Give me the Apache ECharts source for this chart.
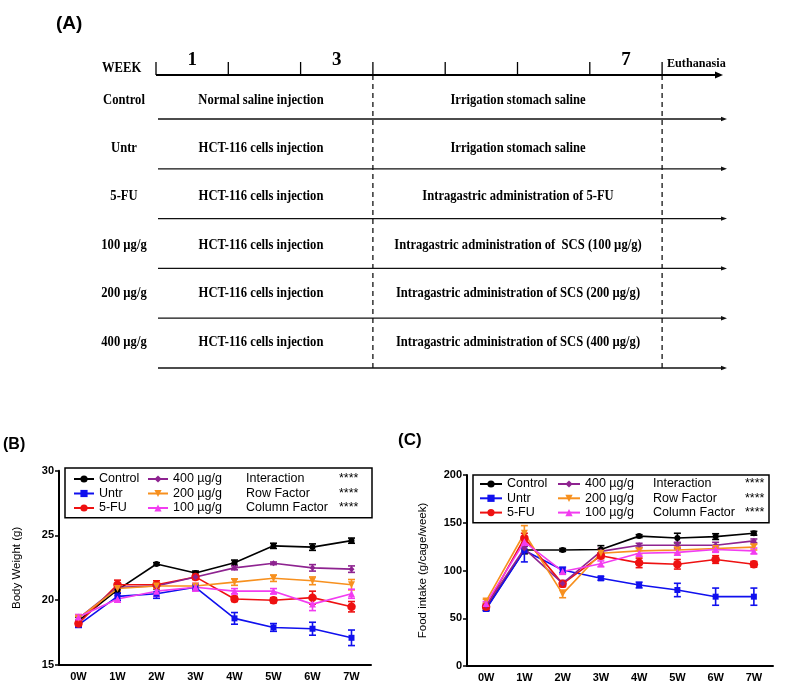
<!DOCTYPE html>
<html><head><meta charset="utf-8">
<script src="https://cdn.jsdelivr.net/npm/echarts@6/dist/echarts.min.js"></script>
<style>html,body{margin:0;padding:0;background:#fff}#c{width:787px;height:693px}</style>
</head><body><div id="c"></div>
<script>
// ---------- data ----------
const weeks = ['0W','1W','2W','3W','4W','5W','6W','7W'];
const groupNames = ['Control','Untr','5-FU','400 µg/g','200 µg/g','100 µg/g'];

// Panel B: body weight (g), mean and SEM
const bwControl = [18.4, 20.8, 22.8, 22.1, 22.9, 24.2, 24.1, 24.6];
const bwUntr    = [18.1, 20.3, 20.5, 21.0, 18.6, 17.9, 17.8, 17.1];
const bw5FU     = [18.2, 21.2, 21.2, 21.8, 20.1, 20.0, 20.2, 19.5];
const bw400     = [18.6, 21.0, 21.1, 21.8, 22.5, 22.85, 22.5, 22.4];
const bw200     = [18.6, 20.9, 21.1, 21.1, 21.4, 21.7, 21.5, 21.2];
const bw100     = [18.7, 20.1, 20.7, 21.0, 20.7, 20.7, 19.7, 20.5];
const bwErrControl = [0.3, 0.25, 0.1, 0.15, 0.2, 0.2, 0.25, 0.2];
const bwErrUntr    = [0.2, 0.3, 0.35, 0.2, 0.45, 0.3, 0.5, 0.6];
const bwErr5FU     = [0.2, 0.35, 0.3, 0.2, 0.2, 0.2, 0.5, 0.4];
const bwErr400     = [0.15, 0.2, 0.2, 0.15, 0.15, 0.1, 0.25, 0.25];
const bwErr200     = [0.15, 0.2, 0.2, 0.15, 0.25, 0.25, 0.3, 0.4];
const bwErr100     = [0.2, 0.25, 0.4, 0.3, 0.2, 0.2, 0.5, 0.35];

// Panel C: food intake (g/cage/week), mean and SEM
const fiControl = [60.5, 121.5, 121.5, 122, 136, 134, 135.5, 139];
const fiUntr    = [59.7, 121, 100.5, 91.8, 84.8, 79.6, 72.6, 72.6];
const fi5FU     = [62, 134, 86, 115.5, 108, 106.5, 111.5, 106.5];
const fi400     = [63, 123, 86.5, 120, 126.5, 126.5, 126.5, 131];
const fi200     = [68, 139, 75.5, 118, 120.5, 121.5, 123, 124.5];
const fi100     = [65.5, 130, 99, 107, 118, 119, 122, 120.5];
const fiErrControl = [2, 4, 1.5, 4, 1.5, 5, 3, 2];
const fiErrUntr    = [2, 12, 3, 2, 3, 7, 9, 9];
const fiErr5FU     = [2, 5, 3, 3, 5, 5, 4, 3];
const fiErr400     = [2, 4, 3, 3, 2, 3, 3, 2];
const fiErr200     = [2, 8, 4, 4, 3, 3, 3, 3];
const fiErr100     = [2, 4, 3, 3, 3, 3, 3, 3];

const statLabels = ['Interaction', 'Row Factor', 'Column Factor'];
const statSig = ['****', '****', '****'];

// Panel A: schedule
const weekNumbers = ['1','2','3','4','5','6','7'];
const shownWeeks = ['1','3','7'];
const rowLabels = ['Control','Untr','5-FU','100 µg/g','200 µg/g','400 µg/g'];
const phase1Texts = ['Normal saline injection','HCT-116 cells injection','HCT-116 cells injection',
  'HCT-116 cells injection','HCT-116 cells injection','HCT-116 cells injection'];
const phase2Texts = ['Irrigation stomach saline','Irrigation stomach saline','Intragastric administration of 5-FU',
  'Intragastric administration of  SCS (100 µg/g)','Intragastric administration of SCS (200 µg/g)',
  'Intragastric administration of SCS (400 µg/g)'];

// ---------- styles ----------
const SANS = 'Liberation Sans, Arial, sans-serif';
const SERIF = 'Liberation Serif, Times New Roman, serif';
const colors = ['#000000', '#1010ee', '#ee1111', '#8e2390', '#f7901e', '#f23cf0'];
const symbols = ['circle', 'rect', 'circle', 'diamond', 'path://M0,0 L10,0 L5,9 Z', 'triangle'];
const symbolSizes = [6, 6, 8.5, 6, 7, 7];

const bwMeans = [bwControl, bwUntr, bw5FU, bw400, bw200, bw100];
const bwErrs = [bwErrControl, bwErrUntr, bwErr5FU, bwErr400, bwErr200, bwErr100];
const fiMeans = [fiControl, fiUntr, fi5FU, fi400, fi200, fi100];
const fiErrs = [fiErrControl, fiErrUntr, fiErr5FU, fiErr400, fiErr200, fiErr100];

function errSeries(name, mean, err, gi, color) {
  return {
    type: 'custom', name: name + ' SEM ' + gi, xAxisIndex: gi, yAxisIndex: gi, z: 3,
    encode: { x: 0, y: [1, 2] },
    data: mean.map((m, i) => [i, m - err[i], m + err[i]]),
    renderItem: (params, api) => {
      const x = api.value(0);
      const p1 = api.coord([x, api.value(1)]);
      const p2 = api.coord([x, api.value(2)]);
      const w = 3.5, st = { stroke: color, lineWidth: 1.6 };
      return { type: 'group', children: [
        { type: 'line', shape: { x1: p1[0], y1: p1[1], x2: p2[0], y2: p2[1] }, style: st },
        { type: 'line', shape: { x1: p1[0] - w, y1: p1[1], x2: p1[0] + w, y2: p1[1] }, style: st },
        { type: 'line', shape: { x1: p2[0] - w, y1: p2[1], x2: p2[0] + w, y2: p2[1] }, style: st }
      ]};
    }
  };
}
function lineSeries(idx, mean, gi) {
  return {
    type: 'line', name: groupNames[idx], xAxisIndex: gi, yAxisIndex: gi, z: 4,
    data: mean, symbol: symbols[idx], symbolSize: symbolSizes[idx],
    itemStyle: { color: colors[idx] }, lineStyle: { color: colors[idx], width: 1.6 },
    emphasis: { disabled: true }, animation: false
  };
}

const series = [];
[bwMeans, fiMeans].forEach((means, gi) => {
  const errs = gi === 0 ? bwErrs : fiErrs;
  means.forEach((m, idx) => {
    series.push(errSeries(groupNames[idx], m, errs[idx], gi, colors[idx]));
    series.push(lineSeries(idx, m, gi));
  });
});

function xAx(gi) {
  return {
    type: 'category', gridIndex: gi, data: weeks, boundaryGap: true,
    axisLine: { lineStyle: { color: '#000', width: 2 } },
    axisTick: { alignWithLabel: true, length: 4, lineStyle: { color: '#000', width: 1.5 } },
    axisLabel: { color: '#000', fontFamily: SANS, fontWeight: 'bold', fontSize: 11, margin: 6 },
    splitLine: { show: false }
  };
}
function yAx(gi, min, max, interval, name, gap) {
  return {
    type: 'value', gridIndex: gi, min, max, interval,
    name, nameLocation: 'middle', nameGap: gap, nameRotate: 90,
    nameTextStyle: { color: '#000', fontFamily: SANS, fontSize: 11.5 },
    axisLine: { show: true, lineStyle: { color: '#000', width: 2 } },
    axisTick: { show: true, length: 4, lineStyle: { color: '#000', width: 1.5 } },
    axisLabel: { color: '#000', fontFamily: SANS, fontWeight: 'bold', fontSize: 11, margin: 5 },
    splitLine: { show: false }
  };
}

function legendCol(names, left, top, itemW, lh) {
  return {
    data: names, orient: 'vertical', left, top, padding: 0, itemGap: 0,
    itemWidth: itemW, itemHeight: 9, selectedMode: false,
    textStyle: { color: '#000', fontFamily: SANS, fontSize: 12.5, lineHeight: lh }
  };
}

// ---------- panel A graphics ----------
const g = [];
const tl = { x0: 156, step: 72.3, y: 75, end: 723 };
const txt = (text, x, y, size, opts, sx) => ({
  type: 'text', x, y, scaleX: sx || 0.9,
  style: Object.assign({ text, fill: '#000', font: 'bold ' + size + 'px ' + SERIF, textVerticalAlign: 'middle', textAlign: 'left' }, opts || {})
});
g.push({ type: 'text', left: 56, top: 14, style: { text: '(A)', fill: '#000', font: 'bold 19px ' + SANS } });
g.push(txt('WEEK', 102, 68, 14));
g.push({ type: 'line', shape: { x1: tl.x0, y1: tl.y, x2: tl.end - 6, y2: tl.y }, style: { stroke: '#000', lineWidth: 2 } });
g.push({ type: 'polygon', shape: { points: [[tl.end, tl.y], [tl.end - 8, tl.y - 3.5], [tl.end - 8, tl.y + 3.5]] }, style: { fill: '#000' } });
for (let i = 0; i <= weekNumbers.length; i++) {
  const x = tl.x0 + tl.step * i;
  g.push({ type: 'line', shape: { x1: x, y1: 62, x2: x, y2: tl.y }, style: { stroke: '#000', lineWidth: 1.3 } });
}
weekNumbers.forEach((w, i) => {
  if (shownWeeks.indexOf(w) >= 0)
    g.push(txt(w, tl.x0 + tl.step * (i + 0.5), 60, 19, { textAlign: 'center' }, 1));
});
g.push(txt('Euthanasia', 667, 64, 13.5));
// dashed phase lines at end of week 3 and week 7
[3, 7].forEach(k => {
  const x = tl.x0 + tl.step * k;
  g.push({ type: 'line', shape: { x1: x, y1: tl.y, x2: x, y2: 372 }, style: { stroke: '#000', lineWidth: 1.2, lineDash: [5, 4] } });
});
rowLabels.forEach((lab, i) => {
  const ty = 100 + 48.4 * i;
  const ly = 119 + 49.8 * i;
  g.push(txt(lab, 124, ty, 14, { textAlign: 'center' }));
  g.push(txt(phase1Texts[i], 261, ty, 14, { textAlign: 'center' }));
  g.push(txt(phase2Texts[i], 518, ty, 14, { textAlign: 'center' }));
  g.push({ type: 'line', shape: { x1: 158, y1: ly, x2: 722, y2: ly }, style: { stroke: '#111', lineWidth: 1.3 } });
  g.push({ type: 'polygon', shape: { points: [[727, ly], [721, ly - 2.2], [721, ly + 2.2]] }, style: { fill: '#111' } });
});

// ---------- panels B & C graphics ----------
g.push({ type: 'text', left: 3, top: 437, style: { text: '(B)', fill: '#000', font: 'bold 16px ' + SANS } });
g.push({ type: 'text', left: 398, top: 432, style: { text: '(C)', fill: '#000', font: 'bold 17px ' + SANS } });
g.push({ type: 'rect', shape: { x: 65, y: 468, width: 307, height: 49.7 }, style: { fill: 'none', stroke: '#000', lineWidth: 1.5 }, z: 10 });
g.push({ type: 'rect', shape: { x: 473, y: 475, width: 296, height: 47.7 }, style: { fill: 'none', stroke: '#000', lineWidth: 1.5 }, z: 10 });
statLabels.forEach((s, i) => {
  const sf = '12.5px ' + SANS;
  g.push({ type: 'text', x: 246, y: 479 + 14.5 * i, style: { text: s, fill: '#000', font: sf, textVerticalAlign: 'middle' } });
  g.push({ type: 'text', x: 339, y: 479 + 14.5 * i, style: { text: statSig[i], fill: '#000', font: sf, textVerticalAlign: 'middle' } });
  g.push({ type: 'text', x: 653, y: 484 + 14.3 * i, style: { text: s, fill: '#000', font: sf, textVerticalAlign: 'middle' } });
  g.push({ type: 'text', x: 745, y: 484 + 14.3 * i, style: { text: statSig[i], fill: '#000', font: sf, textVerticalAlign: 'middle' } });
});

const chart = echarts.init(document.getElementById('c'), null, { renderer: 'canvas' });
chart.setOption({
  animation: false,
  backgroundColor: '#fff',
  grid: [
    { left: 59, top: 470.7, width: 312, height: 194.3, containLabel: false },
    { left: 467, top: 475, width: 306, height: 191, containLabel: false }
  ],
  xAxis: [xAx(0), xAx(1)],
  yAxis: [yAx(0, 15, 30, 5, 'Body Weight (g)', 36), yAx(1, 0, 200, 50, 'Food intake (g/cage/week)', 38)],
  legend: [
    legendCol(groupNames.slice(0, 3), 73, 471.75, 20, 14.5),
    legendCol(groupNames.slice(3), 147, 471.75, 20, 14.5),
    legendCol(groupNames.slice(0, 3), 479, 476.85, 22, 14.3),
    legendCol(groupNames.slice(3), 557, 476.85, 22, 14.3)
  ],
  graphic: g,
  series
});
</script></body></html>
